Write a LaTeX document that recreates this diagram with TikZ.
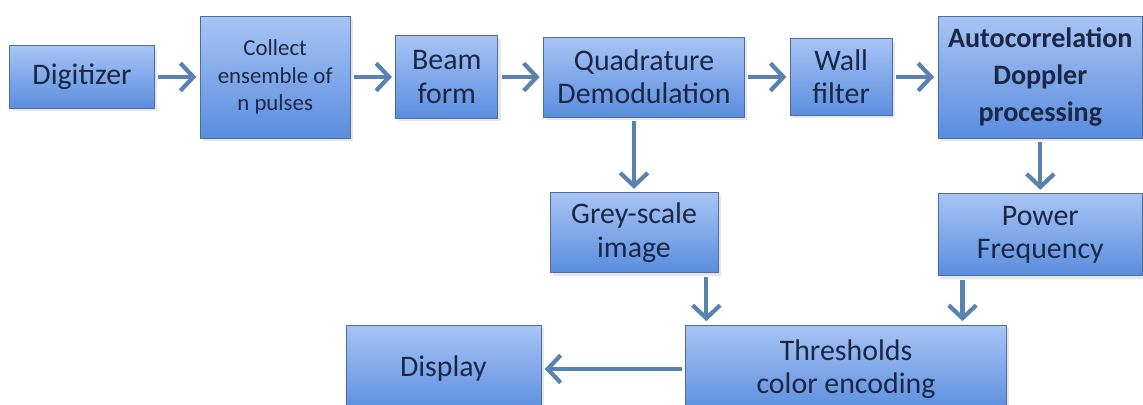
\documentclass[tikz,border=0pt]{standalone}
\usepackage{fontspec}
\setmainfont{Carlito}
\usepackage{tikz}
\usetikzlibrary{arrows.meta,positioning,shadows}
\definecolor{boxtop}{HTML}{A8C4F4}
\definecolor{boxbot}{HTML}{5A8DDF}
\definecolor{edge}{HTML}{4D6E9C}
\definecolor{steel}{HTML}{5882AF}
\definecolor{ink}{HTML}{1A2846}

\begin{document}
\begin{tikzpicture}[x=0.02cm, y=-0.02cm, node distance=9mm and 9mm, every node/.style={font=\fontsize{17}{19}\selectfont, text=ink}, box/.style={draw=edge, top color=boxtop, bottom color=boxbot, align=center, inner sep=2pt, drop shadow={opacity=0.2, shadow xshift=0.6mm, shadow yshift=-0.6mm}}, arr/.style={-{Straight Barb[length=2.6mm,width=5.5mm]}, line width=2.4pt, steel, shorten <=2pt, shorten >=2pt}]
\useasboundingbox (0,0) rectangle (1143,405);
\node[box, minimum width=2.9cm, minimum height=1.26cm] (digit) at (82,77) {Digitizer};
\node[box, minimum width=3cm, minimum height=2.44cm, font=\fontsize{13}{15.5}\selectfont, right=of digit] (collect) {Collect\\ensemble of\\n pulses};
\node[box, minimum width=2.04cm, minimum height=1.66cm, right=of collect] (beam) {Beam\\form};
\node[box, minimum width=4.02cm, minimum height=1.6cm, right=of beam] (quad) {Quadrature\\Demodulation};
\node[box, minimum width=2.04cm, minimum height=1.54cm, right=of quad] (wall) {Wall\\filter};
\node[box, minimum width=4.1cm, minimum height=2.44cm, font=\fontsize{16}{21}\selectfont\bfseries, right=of wall] (auto) {Autocorrelation\\Doppler\\processing};
\node[box, minimum width=3.36cm, minimum height=1.6cm, below=15mm of quad, xshift=-2mm] (grey) {Grey-scale\\image};
\node[box, minimum width=4.1cm, minimum height=1.64cm, below=11mm of auto] (power) {Power\\Frequency};
\node[box, minimum width=6.42cm, minimum height=1.76cm] (thr) at (846,369) {Thresholds\\color encoding};
\node[box, minimum width=3.9cm, minimum height=1.76cm, left=28.8mm of thr] (disp) {Display};
\coordinate (gs) at ([xshift=-0.24cm]grey.south east);
\coordinate (ps) at ([xshift=0.5cm]power.south west);
\draw[arr] (digit)--(collect);
\draw[arr] (collect)--(beam);
\draw[arr] (beam)--(quad);
\draw[arr] (quad)--(wall);
\draw[arr] (wall)--(auto);
\draw[arr] (quad.south -| grey)--(grey);
\draw[arr] (auto)--(power);
\draw[arr] (gs)--(gs |- thr.north);
\draw[arr] (ps)--(ps |- thr.north);
\draw[arr] (thr)--(disp);
\end{tikzpicture}
\end{document}
